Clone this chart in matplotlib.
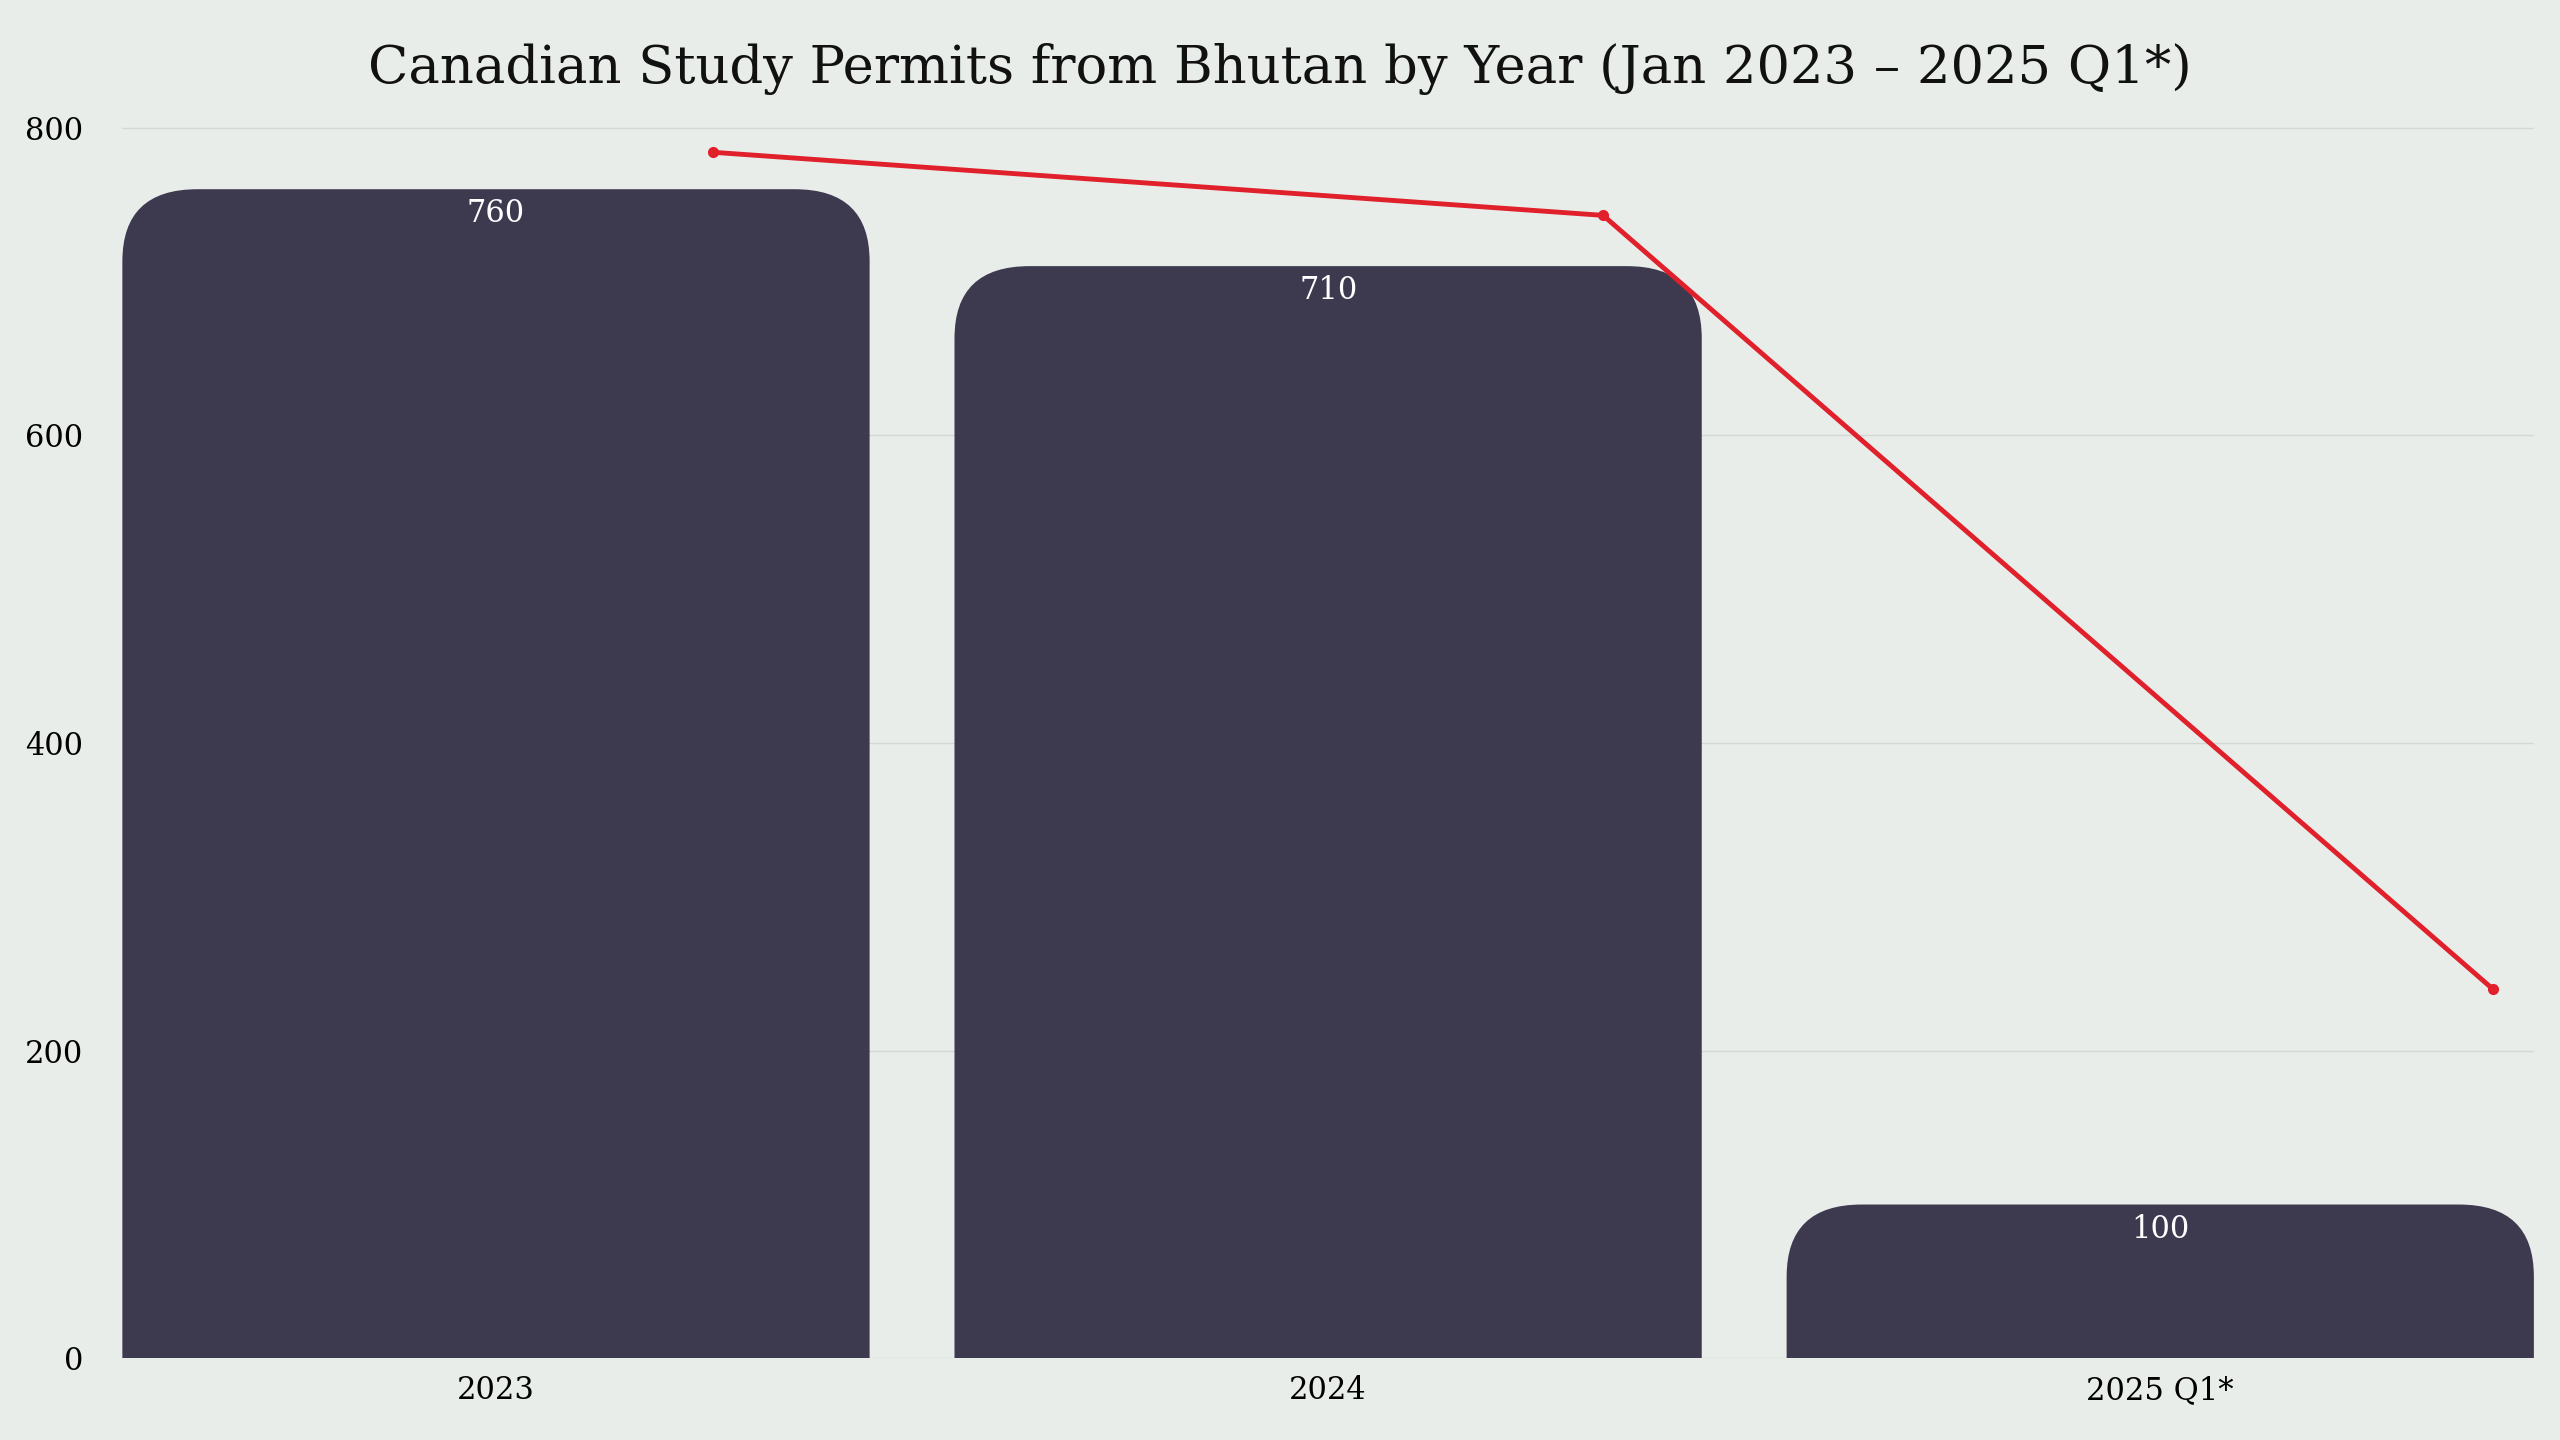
import matplotlib
matplotlib.use("Agg")
import matplotlib.pyplot as plt
from matplotlib.patches import FancyBboxPatch

categories = ["2023", "2024", "2025 Q1*"]
values = [760, 710, 100]
trend = [784, 743, 240]
yticks = [0, 200, 400, 600, 800]

bg = "#E9EDEA"
bar_color = "#3D3A50"
line_color = "#E0202B"
font = "DejaVu Serif"

fig = plt.figure(figsize=(25.6, 14.4), dpi=100, facecolor=bg)
ax = fig.add_axes([0.0478, 0.0567, 0.942, 0.876], facecolor=bg)
ax.set_xlim(-0.449, 2.449)
ax.set_ylim(0, 820)

w = 0.898
for i, v in enumerate(values):
    p = FancyBboxPatch((i - w / 2, -200), w, v + 200,
                       boxstyle="round,pad=0,rounding_size=0.09",
                       mutation_aspect=520, fc=bar_color, ec="none", zorder=2)
    ax.add_patch(p)
    ax.text(i, v - 16, str(v), ha="center", va="center", color="white",
            fontsize=22, family=font, zorder=3)

ax.set_yticks(yticks)
ax.set_yticklabels([str(t) for t in yticks], family=font, fontsize=22)
ax.set_xticks(range(len(categories)))
ax.set_xticklabels(categories, family=font, fontsize=22)
ax.tick_params(length=0, pad=12)
ax.tick_params(axis="y", pad=28)
ax.grid(axis="y", color="#D4D8D5", lw=1, zorder=0)
for s in ax.spines.values():
    s.set_visible(False)

ax2 = ax.twiny()
ax2.set_xlim(-0.664, 2.046)
ax2.set_ylim(0, 820)
ax2.plot(range(len(trend)), trend, color=line_color, lw=3.5, marker="o",
         markersize=7, zorder=4)
ax2.set_xticks([])
for s in ax2.spines.values():
    s.set_visible(False)

fig.suptitle("Canadian Study Permits from Bhutan by Year (Jan 2023 \u2013 2025 Q1*)",
             y=0.97, fontsize=38, family=font, color="#111111")
fig.savefig("out.png", dpi=100, facecolor=bg)
